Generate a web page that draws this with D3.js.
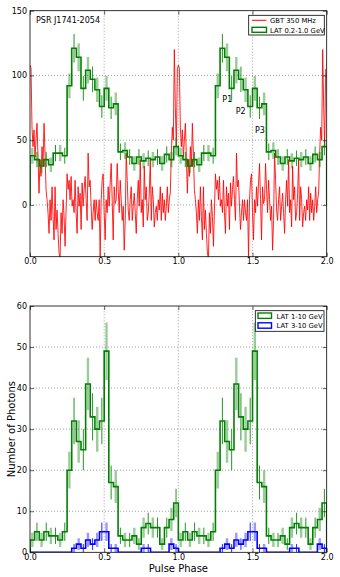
<!DOCTYPE html>
<html>
<head>
<meta charset="utf-8">
<script src="https://cdn.jsdelivr.net/npm/d3@7"></script>
<style>
  body { margin: 0; background: #fff; }
  text { font-family: "DejaVu Sans", sans-serif; fill: #000; }
</style>
</head>
<body>
<div id="chart"></div>
<script>
// photon counts, 32 phase bins per rotation (drawn for two rotations)
var lat02to10 = [38, 35, 30, 35, 31, 40, 40, 38, 92, 121, 114, 90, 104, 97, 89, 76,
  90, 75, 78, 41, 42, 37, 32, 37, 34, 36, 35, 37, 32, 39, 35, 45]
var lat1to10 = [3, 5, 3, 5, 4, 4, 3, 5, 20, 32, 27, 25, 41, 33, 30, 32,
  49, 17, 16, 4, 3, 3, 4, 2, 6, 7, 6, 6, 2, 6, 8, 12]
var lat3to10 = [0, 0, 0, 0, 0, 0, 0, 0, 0, 1, 2, 1, 3, 2, 3, 5,
  5, 1, 1, 0, 0, 0, 0, 0, 1, 1, 0, 0, 0, 0, 2, 1]

// GBT 350 MHz profile, 148 bins per rotation (arbitrary units)
var gbt350 = [108, 106, 60, 45, 58, 37, 50, 63, 37, 9,
  35, 22, 45, 30, 63, 40, 12, 4, -6, -22,
  4, -12, 14, -9, -27, 14, -19, -4, -22, -37,
  -42, -6, -22, 4, -9, -32, -4, 24, 12, 19,
  4, 22, -1, 4, -6, 19, -6, -22, 14, -1,
  9, -19, 17, -1, 12, 22, 4, -12, 40, 14,
  19, -1, -19, -6, 4, -12, 4, -6, -12, 4,
  -40, 4, 19, 24, -6, -27, 4, -6, 14, -1,
  17, 32, 4, -27, 14, 1, 4, 32, 12, -6,
  19, 4, -12, -1, -35, -12, 40, 19, -4, -12,
  4, 14, -12, -1, 9, -6, -22, 4, 19, -1,
  35, -6, 4, -17, 30, 4, 14, -12, -6, 9,
  35, -12, 14, 4, -17, -6, -1, -12, 4, -4,
  14, -12, 9, -6, 4, -12, -1, 14, -6, 4,
  10, 40, 60, 50, 120, 75, 45, 105]

var xTicks = [0, 0.5, 1, 1.5, 2]
var topYTicks = [0, 50, 100, 150]
var botYTicks = [0, 10, 20, 30, 40, 50, 60]

var width = 340
var height = 577
var green = '#008000'

var svg = d3.select('#chart').append('svg')
  .attr('width', width)
  .attr('height', height)

var x = d3.scaleLinear().domain([0, 2]).range([30, 326.7])
var yTop = d3.scaleLinear().domain([-40, 150]).range([256.7, 10.7])
var yBot = d3.scaleLinear().domain([0, 60]).range([552.3, 306])

function panel (name, y, yTicks) {
  var g = svg.append('g')
  var y0 = y.range()[0]
  var y1 = y.range()[1]

  g.append('clipPath').attr('id', 'clip-' + name)
    .append('rect')
    .attr('x', x(0)).attr('y', y1)
    .attr('width', x(2) - x(0)).attr('height', y0 - y1)

  // dotted grid
  var grid = g.append('g')
  grid.append('g').selectAll('line').data(xTicks.slice(1, -1)).join('line')
    .attr('x1', d => x(d)).attr('x2', d => x(d))
    .attr('y1', y0).attr('y2', y1)
  grid.append('g').selectAll('line').data(yTicks.filter(d => y(d) > y1 + 1 && y(d) < y0 - 1)).join('line')
    .attr('x1', x(0)).attr('x2', x(2))
    .attr('y1', d => y(d)).attr('y2', d => y(d))
  grid.selectAll('line')
    .attr('stroke', '#777').attr('stroke-width', 0.7).attr('stroke-dasharray', '1,2')

  var plot = g.append('g').attr('clip-path', 'url(#clip-' + name + ')')
  return { g: g, plot: plot, y: y, yTicks: yTicks }
}

function axes (p) {
  var y = p.y
  var y0 = y.range()[0]
  var y1 = y.range()[1]
  var yTicks = p.yTicks
  var fmt = d3.format('.1f')

  var ax = p.g.append('g')
  ax.append('g').attr('transform', 'translate(0,' + y0 + ')')
    .call(d3.axisBottom(x).tickValues(xTicks).tickSize(-4).tickPadding(2).tickFormat(fmt))
  ax.append('g').attr('transform', 'translate(0,' + y1 + ')')
    .call(d3.axisTop(x).tickValues(xTicks).tickSize(-4).tickFormat(''))
  ax.append('g').attr('transform', 'translate(' + x(0) + ',0)')
    .call(d3.axisLeft(y).tickValues(yTicks).tickSize(-4).tickPadding(3))
  ax.append('g').attr('transform', 'translate(' + x(2) + ',0)')
    .call(d3.axisRight(y).tickValues(yTicks).tickSize(-4).tickFormat(''))

  ax.selectAll('.domain').remove()
  ax.selectAll('.tick line').attr('stroke', '#000').attr('stroke-width', 0.6)
  ax.selectAll('.tick text').attr('font-size', 8).attr('font-family', 'DejaVu Sans')

  ax.append('rect')
    .attr('x', x(0)).attr('y', y1)
    .attr('width', x(2) - x(0)).attr('height', y0 - y1)
    .attr('fill', 'none').attr('stroke', '#000').attr('stroke-width', 0.8)
}

function histogram (p, counts, color) {
  var y = p.y
  var n = counts.length
  var all = counts.concat(counts)
  var pts = [[0, 0]]
  all.forEach((c, i) => pts.push([i / n, c]))
  pts.push([2, all[all.length - 1]])
  pts.push([2, 0])

  // poisson error bars
  p.plot.append('g').selectAll('line')
    .data(all.map((c, i) => ({ c: c, i: i })).filter(d => d.c > 0))
    .join('line')
    .attr('x1', d => x((d.i + 0.5) / n))
    .attr('x2', d => x((d.i + 0.5) / n))
    .attr('y1', d => y(d.c - Math.sqrt(d.c)))
    .attr('y2', d => y(d.c + Math.sqrt(d.c)))
    .attr('stroke', color)
    .attr('stroke-width', d => d.i % 2 === 0 ? 2.4 : 1)
    .attr('stroke-opacity', d => d.i % 2 === 0 ? 0.4 : 0.85)

  p.plot.append('path')
    .datum(pts)
    .attr('d', d3.line().x(d => x(d[0])).y(d => y(d[1])).curve(d3.curveStepAfter))
    .attr('fill', 'none')
    .attr('stroke', color)
    .attr('stroke-width', 1.6)
}

// top panel
var topPanel = panel('top', yTop, topYTicks)

var radioPts = []
for (var k = 0; k < 2; k++) {
  gbt350.forEach((v, i) => radioPts.push([k + i / gbt350.length, v]))
}
topPanel.plot.append('path')
  .datum(radioPts)
  .attr('d', d3.line().x(d => x(d[0])).y(d => yTop(d[1])))
  .attr('fill', 'none')
  .attr('stroke', '#ff0000')
  .attr('stroke-opacity', 0.85)
  .attr('stroke-width', 1)

histogram(topPanel, lat02to10, green)
axes(topPanel)

topPanel.g.append('text').attr('x', 36).attr('y', 23).attr('font-size', 8).text('PSR J1741-2054')
var peaks = [['P1', 1.33, 82], ['P2', 1.42, 72], ['P3', 1.55, 58]]
topPanel.g.selectAll('.peak').data(peaks).join('text')
  .attr('class', 'peak')
  .attr('x', d => x(d[1])).attr('y', d => yTop(d[2]))
  .attr('dy', '0.35em')
  .attr('text-anchor', 'middle')
  .attr('font-size', 8)
  .text(d => d[0])

// top legend
var lg = topPanel.g.append('g')
lg.append('rect').attr('x', 248.7).attr('y', 15.3).attr('width', 75.6).attr('height', 19.7)
  .attr('fill', '#fff').attr('stroke', '#000').attr('stroke-width', 0.8)
lg.append('line').attr('x1', 252).attr('x2', 266.5).attr('y1', 20.3).attr('y2', 20.3)
  .attr('stroke', '#ff0000').attr('stroke-width', 1)
lg.append('rect').attr('x', 252).attr('y', 27.3).attr('width', 14.5).attr('height', 5)
  .attr('fill', 'none').attr('stroke', green).attr('stroke-width', 1.4)
lg.append('text').attr('x', 270).attr('y', 22.8).attr('font-size', 6.8).text('GBT 350 MHz')
lg.append('text').attr('x', 270).attr('y', 32.6).attr('font-size', 6.8).text('LAT 0.2-1.0 GeV')

// bottom panel
var botPanel = panel('bot', yBot, botYTicks)
histogram(botPanel, lat1to10, green)
histogram(botPanel, lat3to10, '#0000ff')
axes(botPanel)

var lg2 = botPanel.g.append('g')
lg2.append('rect').attr('x', 255.3).attr('y', 310.7).attr('width', 68.7).attr('height', 20.6)
  .attr('fill', '#fff').attr('stroke', '#000').attr('stroke-width', 0.8)
lg2.append('rect').attr('x', 258).attr('y', 313).attr('width', 13.5).attr('height', 5.4)
  .attr('fill', 'none').attr('stroke', green).attr('stroke-width', 1.4)
lg2.append('rect').attr('x', 258).attr('y', 322.8).attr('width', 13.5).attr('height', 5.4)
  .attr('fill', 'none').attr('stroke', '#0000ff').attr('stroke-width', 1.4)
lg2.append('text').attr('x', 276.5).attr('y', 318.6).attr('font-size', 6.8).text('LAT 1-10 GeV')
lg2.append('text').attr('x', 276.5).attr('y', 328.4).attr('font-size', 6.8).text('LAT 3-10 GeV')

svg.append('text')
  .attr('x', (x(0) + x(2)) / 2).attr('y', 572)
  .attr('text-anchor', 'middle').attr('font-size', 10)
  .text('Pulse Phase')
svg.append('text')
  .attr('transform', 'translate(15,' + (yBot(0) + yBot(60)) / 2 + ') rotate(-90)')
  .attr('text-anchor', 'middle').attr('font-size', 10)
  .text('Number of Photons')
</script>
</body>
</html>
